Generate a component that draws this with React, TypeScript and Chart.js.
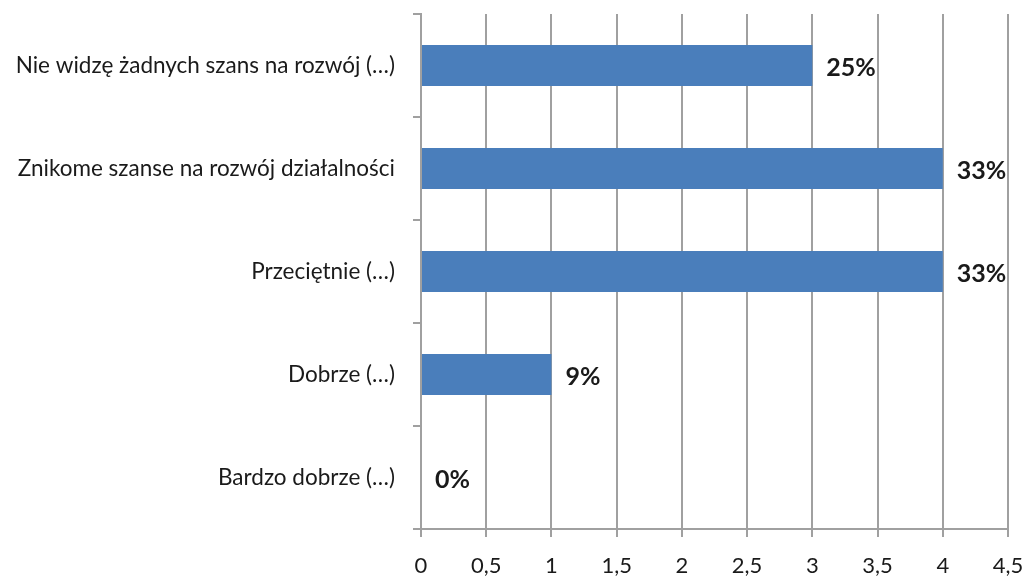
import React, { useEffect, useRef } from "react";
import { Chart, registerables } from "chart.js";

Chart.register(...registerables);

const categories = [
  "Nie widzę żadnych szans na rozwój (…)",
  "Znikome szanse na rozwój działalności",
  "Przeciętnie (…)",
  "Dobrze (…)",
  "Bardzo dobrze (…)",
];
const values = [3, 4, 4, 1, 0];
const valueLabels = ["25%", "33%", "33%", "9%", "0%"];

const FONT = "Lato, 'Open Sans', sans-serif";
const GRID = "#a0a0a0";
const TEXT = "#1a1a1a";

const valueLabelPlugin = {
  id: "valueLabels",
  afterDatasetsDraw(chart: any) {
    const ctx = chart.ctx;
    const meta = chart.getDatasetMeta(0);
    ctx.save();
    ctx.font = `bold 25px ${FONT}`;
    ctx.fillStyle = TEXT;
    ctx.textAlign = "left";
    ctx.textBaseline = "middle";
    meta.data.forEach((bar: any, i: number) => {
      ctx.fillText(valueLabels[i], bar.x + 14, bar.y + 2);
    });
    ctx.restore();
  },
};

export default function App() {
  const ref = useRef<HTMLCanvasElement>(null);
  useEffect(() => {
    if (!ref.current) return;
    const chart = new Chart(ref.current, {
      type: "bar",
      data: {
        labels: categories,
        datasets: [
          {
            data: values,
            backgroundColor: "#4a7ebb",
            borderWidth: 0,
            categoryPercentage: 1,
            barPercentage: 0.4,
          },
        ],
      },
      options: {
        indexAxis: "y",
        animation: false,
        responsive: false,
        maintainAspectRatio: false,
        layout: { padding: { top: 14, right: 17, bottom: 0, left: 0 } },
        plugins: { legend: { display: false }, tooltip: { enabled: false } },
        scales: {
          x: {
            min: 0,
            max: 4.5,
            ticks: {
              stepSize: 0.5,
              color: TEXT,
              font: { family: FONT, size: 22 },
              padding: 16,
              maxRotation: 0,
              callback: (v: any) => String(v).replace(".", ","),
            },
            grid: { color: GRID, lineWidth: 2, tickLength: 8, drawTicks: true },
            border: { color: GRID, width: 2 },
            afterFit: (s: any) => {
              s.height = 49;
              s.paddingRight = 0;
              s.paddingLeft = 0;
            },
          },
          y: {
            ticks: {
              color: TEXT,
              font: { family: FONT, size: 22.5 },
              padding: 18,
            },
            grid: {
              color: GRID,
              lineWidth: 2,
              drawOnChartArea: false,
              drawTicks: true,
              tickLength: 8,
              offset: true,
            },
            border: { color: GRID, width: 2 },
            afterFit: (s: any) => {
              s.width = 421;
              s.paddingTop = 0;
              s.paddingBottom = 0;
            },
          },
        },
      },
      plugins: [valueLabelPlugin],
    });
    return () => chart.destroy();
  }, []);
  return (
    <div style={{ position: "absolute", left: 0, top: 0, width: 1025, height: 578, background: "#fff" }}>
      <canvas ref={ref} width={1025} height={578} />
    </div>
  );
}
